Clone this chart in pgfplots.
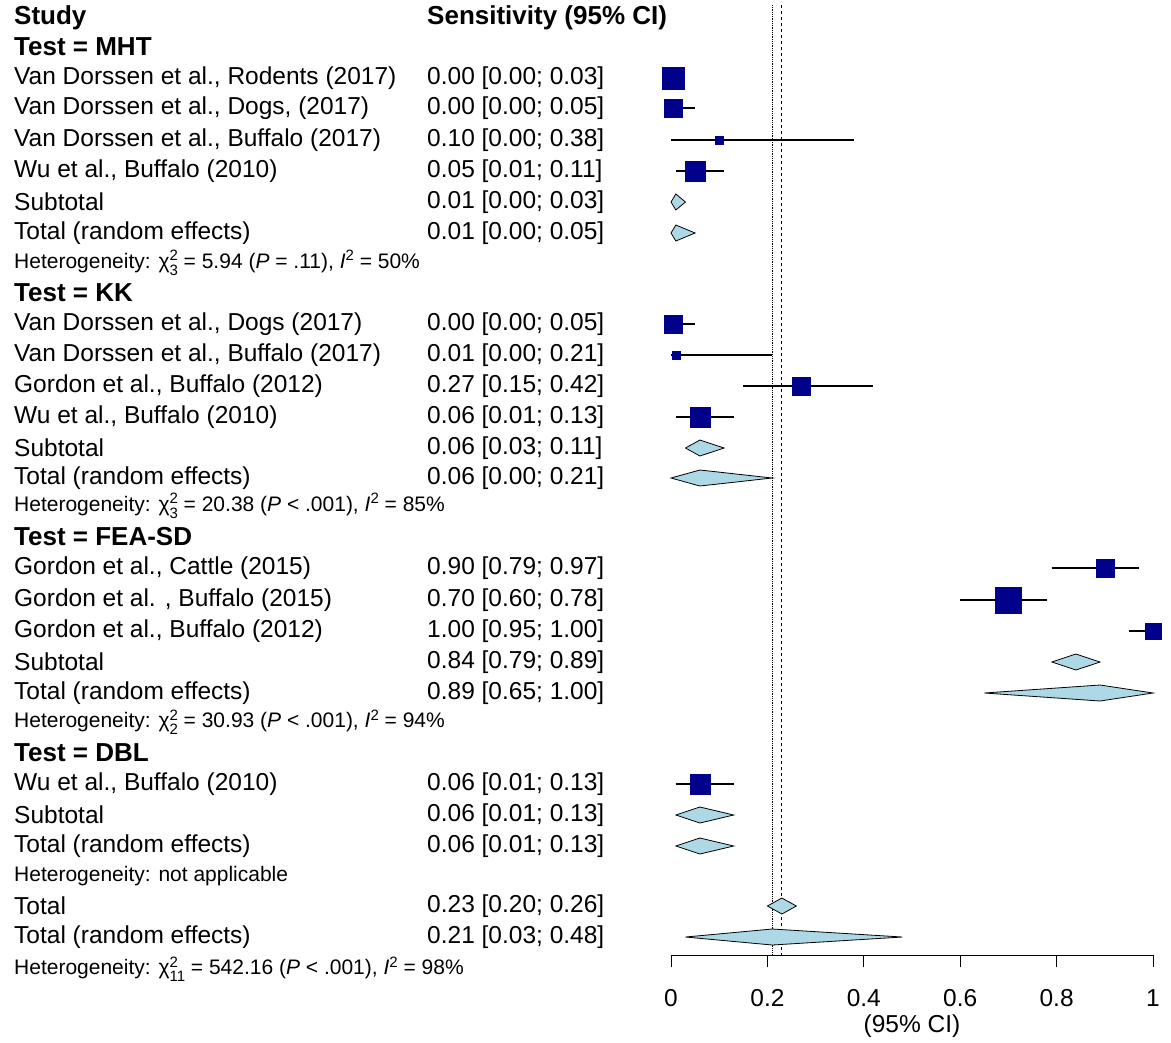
\documentclass[border=0pt]{standalone}
\usepackage{pgfplots}
\pgfplotsset{compat=1.18}
\usepackage{fontspec}
\setmainfont{Liberation Sans}
\definecolor{sq}{RGB}{0,0,139}
\definecolor{dia}{RGB}{173,216,230}
\newcommand\study[5]{%
 \addplot[black,line width=1.2pt] coordinates {(#3,#1) (#4,#1)};
 \addplot[only marks,mark=square*,mark size=#5pt,sq] coordinates {(#2,#1)};}
\newcommand\diam[4]{%
 \addplot[fill=dia,draw=black,line width=0.8pt] coordinates {(#3,#1) (#2,#1-8) (#4,#1) (#2,#1+8)} -- cycle;}
\DeclareRobustCommand\chisq[1]{\char"03C7\makebox[0pt][l]{\raisebox{0.7ex}{\fontsize{15}{15}\selectfont 2}}\raisebox{-0.6ex}{\fontsize{15}{15}\selectfont #1}}
\DeclareRobustCommand\Isq{\textit{I}\raisebox{0.7ex}{\fontsize{15}{15}\selectfont 2}}
\newcommand\txt[3]{\node[anchor=west,inner sep=0pt] at (axis cs:-1.3631,#1) {#2};
 \node[anchor=west,inner sep=0pt] at (axis cs:-0.5062,#1) {#3};}
\newcommand\het[2]{\node[anchor=west,inner sep=0pt,font=\fontsize{21}{22}\selectfont] at (axis cs:-1.3631,#1) {#2};}
\newcommand\grp[2]{\node[anchor=west,inner sep=0pt,font=\fontsize{26}{28}\selectfont\bfseries] at (axis cs:-1.3631,#1) {#2};}
\begin{document}
\begin{tikzpicture}
\begin{axis}[width=1171pt,height=1042pt,scale only axis,hide axis,clip=false,
 xmin=-1.3921,xmax=1.0373,ymin=0,ymax=1042,y dir=reverse,
 font=\fontsize{24.5}{26}\selectfont]
\path (axis cs:-1.3921,0) rectangle (axis cs:1.0373,1042);
\draw[densely dotted,line width=0.8pt] (axis cs:0.21,5) -- (axis cs:0.21,955);
\draw[dashed,line width=0.8pt] (axis cs:0.23,5) -- (axis cs:0.23,955);
\draw[line width=0.8pt] (axis cs:0,955) -- (axis cs:1,955);
\draw[line width=0.8pt] (axis cs:0,955) -- (axis cs:0,967);
\draw[line width=0.8pt] (axis cs:0.2,955) -- (axis cs:0.2,967);
\draw[line width=0.8pt] (axis cs:0.4,955) -- (axis cs:0.4,967);
\draw[line width=0.8pt] (axis cs:0.6,955) -- (axis cs:0.6,967);
\draw[line width=0.8pt] (axis cs:0.8,955) -- (axis cs:0.8,967);
\draw[line width=0.8pt] (axis cs:1,955) -- (axis cs:1,967);
\node at (axis cs:0,998) {0};
\node at (axis cs:0.2,998) {0.2};
\node at (axis cs:0.4,998) {0.4};
\node at (axis cs:0.6,998) {0.6};
\node at (axis cs:0.8,998) {0.8};
\node at (axis cs:1,998) {1};
\node at (axis cs:0.5,1026) {(95\% CI)};
\grp{18}{Study}
\node[anchor=west,inner sep=0pt,font=\fontsize{26}{28}\selectfont\bfseries] at (axis cs:-0.5062,18) {Sensitivity (95\% CI)};
\grp{47}{Test = MHT}
\txt{78}{Van Dorssen et al., Rodents (2017)}{0.00 [0.00; 0.03]}
\txt{108}{Van Dorssen et al., Dogs, (2017)}{0.00 [0.00; 0.05]}
\txt{140}{Van Dorssen et al., Buffalo (2017)}{0.10 [0.00; 0.38]}
\txt{171}{Wu et al., Buffalo (2010)}{0.05 [0.01; 0.11]}
\txt{202}{Subtotal}{0.01 [0.00; 0.03]}
\txt{233}{Total (random effects)}{0.01 [0.00; 0.05]}
\het{263}{Heterogeneity: \chisq{3} = 5.94 (\textit{P} = .11), \Isq{} = 50\%}
\grp{293}{Test = KK}
\txt{324}{Van Dorssen et al., Dogs (2017)}{0.00 [0.00; 0.05]}
\txt{355}{Van Dorssen et al., Buffalo (2017)}{0.01 [0.00; 0.21]}
\txt{386}{Gordon et al., Buffalo (2012)}{0.27 [0.15; 0.42]}
\txt{417}{Wu et al., Buffalo (2010)}{0.06 [0.01; 0.13]}
\txt{448}{Subtotal}{0.06 [0.03; 0.11]}
\txt{478}{Total (random effects)}{0.06 [0.00; 0.21]}
\het{506}{Heterogeneity: \chisq{3} = 20.38 (\textit{P} < .001), \Isq{} = 85\%}
\grp{537}{Test = FEA-SD}
\txt{568}{Gordon et al., Cattle (2015)}{0.90 [0.79; 0.97]}
\txt{600}{Gordon et al. , Buffalo (2015)}{0.70 [0.60; 0.78]}
\txt{631}{Gordon et al., Buffalo (2012)}{1.00 [0.95; 1.00]}
\txt{662}{Subtotal}{0.84 [0.79; 0.89]}
\txt{693}{Total (random effects)}{0.89 [0.65; 1.00]}
\het{722}{Heterogeneity: \chisq{2} = 30.93 (\textit{P} < .001), \Isq{} = 94\%}
\grp{753}{Test = DBL}
\txt{784}{Wu et al., Buffalo (2010)}{0.06 [0.01; 0.13]}
\txt{815}{Subtotal}{0.06 [0.01; 0.13]}
\txt{846}{Total (random effects)}{0.06 [0.01; 0.13]}
\het{876}{Heterogeneity: not applicable}
\txt{906}{Total}{0.23 [0.20; 0.26]}
\txt{937}{Total (random effects)}{0.21 [0.03; 0.48]}
\het{969}{Heterogeneity: \chisq{11} = 542.16 (\textit{P} < .001), \Isq{} = 98\%}
\study{78}{0.005}{0.0}{0.03}{11}
\study{108}{0.005}{0.0}{0.05}{9}
\study{140}{0.10}{0.0}{0.38}{4}
\study{171}{0.05}{0.01}{0.11}{10}
\diam{202}{0.01}{0.0}{0.03}
\diam{233}{0.01}{0.0}{0.05}
\study{324}{0.005}{0.0}{0.05}{9}
\study{355}{0.01}{0.0}{0.21}{4}
\study{386}{0.27}{0.15}{0.42}{9}
\study{417}{0.06}{0.01}{0.13}{10}
\diam{448}{0.06}{0.03}{0.11}
\diam{478}{0.06}{0.0}{0.21}
\study{568}{0.90}{0.79}{0.97}{9}
\study{600}{0.70}{0.60}{0.78}{13}
\study{631}{1.00}{0.95}{1.00}{8}
\diam{662}{0.84}{0.79}{0.89}
\diam{693}{0.89}{0.65}{1.00}
\study{784}{0.06}{0.01}{0.13}{10}
\diam{815}{0.06}{0.01}{0.13}
\diam{846}{0.06}{0.01}{0.13}
\diam{906}{0.23}{0.20}{0.26}
\diam{937}{0.21}{0.03}{0.48}
\end{axis}
\end{tikzpicture}
\end{document}
